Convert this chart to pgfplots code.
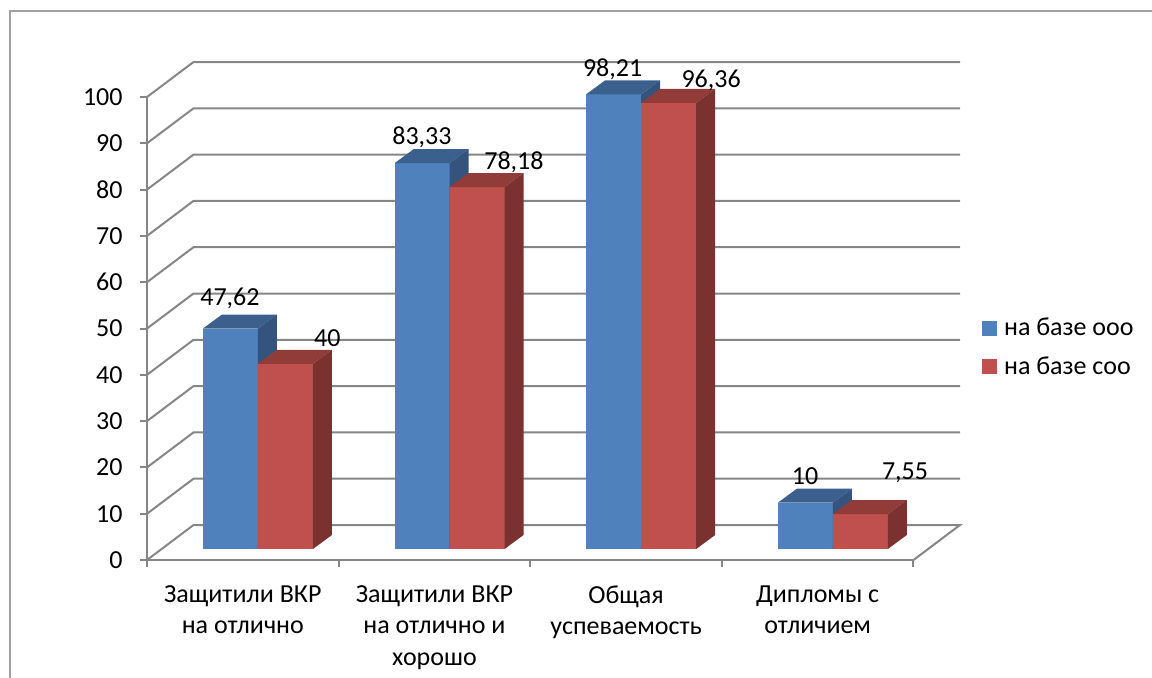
\documentclass[border=0pt]{standalone}
\usepackage{pgfplots}
\pgfplotsset{compat=1.18}
\usepackage{fontspec}
\setmainfont{Carlito}
\definecolor{bfront}{RGB}{79,129,189}
\definecolor{btop}{RGB}{60,96,142}
\definecolor{bside}{RGB}{52,84,126}
\definecolor{rfront}{RGB}{192,80,77}
\definecolor{rtop}{RGB}{145,60,57}
\definecolor{rside}{RGB}{122,49,47}
\definecolor{gridc}{RGB}{134,134,134}
\definecolor{framec}{RGB}{160,160,160}
% bar geometry (axis units)
\def\bw{0.287}
\def\ddx{0.099}
\def\ddy{3.02}
\def\bb{2.376}
\newcommand{\tdbar}[5]{%
 \pgfmathsetmacro\xa{#1}%
 \pgfmathsetmacro\xb{#1+\bw}%
 \pgfmathsetmacro\xc{#1+\bw+\ddx}%
 \pgfmathsetmacro\xd{#1+\ddx}%
 \pgfmathsetmacro\ya{\bb}%
 \pgfmathsetmacro\yb{\bb+#2}%
 \pgfmathsetmacro\yc{\bb+#2+\ddy}%
 \pgfmathsetmacro\yd{\bb+\ddy}%
 \edef\tmp{%
 \noexpand\addplot[fill=#3,draw=none,forget plot] coordinates {(\xa,\ya) (\xb,\ya) (\xb,\yb) (\xa,\yb)} -- cycle;
 \noexpand\addplot[fill=#4,draw=none,forget plot] coordinates {(\xa,\yb) (\xb,\yb) (\xc,\yc) (\xd,\yc)} -- cycle;
 \noexpand\addplot[fill=#5,draw=none,forget plot] coordinates {(\xb,\ya) (\xc,\yd) (\xc,\yc) (\xb,\yb)} -- cycle;
 }\tmp
}
\newcommand{\lf}{\fontsize{13}{15}\selectfont}
\begin{document}
\begin{tikzpicture}
\useasboundingbox (0,0) rectangle (576pt,338.5pt);
\draw[framec, line width=1pt] (5pt,-2pt) -- (5pt,333pt) -- (580pt,333pt);
\begin{axis}[
  at={(73.5pt,58.5pt)}, anchor=south west,
  scale only axis, width=383.25pt, height=231.5pt,
  xmin=0, xmax=4, ymin=0, ymax=100, clip=false,
  axis x line*=bottom, axis y line*=left,
  axis line style={gridc, line width=1pt},
  tick align=outside, major tick length=3.5pt,
  tick style={gridc, line width=1pt},
  ytick={0,10,...,100},
  yticklabel style={font=\lf, text=black, anchor=east, inner sep=0pt, xshift=-8.5pt},
  /pgf/number format/assume math mode=true,
  xtick={0,1,2,3,4}, xticklabels={},
  extra x ticks={0.5,1.5,2.5,3.5},
  extra x tick labels={{Защитили ВКР\\на отлично},{Защитили ВКР\\на отлично и\\хорошо},{Общая\\успеваемость},{Дипломы с\\отличием}},
  extra x tick style={major tick length=0pt, tick label style={font=\fontsize{13}{15.75}\selectfont, align=center, anchor=north, inner sep=0pt, yshift=-12.5pt}},
  legend image code/.code={\fill[#1] (0pt,-3.75pt) rectangle (7.5pt,3.75pt);},
  legend style={at={(1.089,0.459)}, anchor=west, draw=none, fill=none, font=\lf, row sep=9pt, inner sep=0pt, nodes={inner sep=0pt}, column sep=3.5pt},
  legend cell align=left,
]
% back wall, left wall, floor
\addplot[gridc, line width=1pt, forget plot] coordinates {(0,0) (0.2427,7.56) (4.2427,7.56) (4,0)};
\addplot[gridc, line width=1pt, forget plot] coordinates {(0,10) (0.2427,17.56) (4.2427,17.56)};
\addplot[gridc, line width=1pt, forget plot] coordinates {(0,20) (0.2427,27.56) (4.2427,27.56)};
\addplot[gridc, line width=1pt, forget plot] coordinates {(0,30) (0.2427,37.56) (4.2427,37.56)};
\addplot[gridc, line width=1pt, forget plot] coordinates {(0,40) (0.2427,47.56) (4.2427,47.56)};
\addplot[gridc, line width=1pt, forget plot] coordinates {(0,50) (0.2427,57.56) (4.2427,57.56)};
\addplot[gridc, line width=1pt, forget plot] coordinates {(0,60) (0.2427,67.56) (4.2427,67.56)};
\addplot[gridc, line width=1pt, forget plot] coordinates {(0,70) (0.2427,77.56) (4.2427,77.56)};
\addplot[gridc, line width=1pt, forget plot] coordinates {(0,80) (0.2427,87.56) (4.2427,87.56)};
\addplot[gridc, line width=1pt, forget plot] coordinates {(0,90) (0.2427,97.56) (4.2427,97.56)};
\addplot[gridc, line width=1pt, forget plot] coordinates {(0,100) (0.2427,107.56) (4.2427,107.56)};
% bars: на базе ооо (blue), на базе соо (red)
\tdbar{0.292}{47.62}{bfront}{btop}{bside}
\tdbar{0.579}{40}{rfront}{rtop}{rside}
\tdbar{1.292}{83.33}{bfront}{btop}{bside}
\tdbar{1.579}{78.18}{rfront}{rtop}{rside}
\tdbar{2.292}{98.21}{bfront}{btop}{bside}
\tdbar{2.579}{96.36}{rfront}{rtop}{rside}
\tdbar{3.292}{10}{bfront}{btop}{bside}
\tdbar{3.579}{7.55}{rfront}{rtop}{rside}
% data labels
\addplot[draw=none, forget plot, nodes near coords, point meta=explicit symbolic,
  nodes near coords style={anchor=center, font=\lf, inner sep=0pt, text=black}] table[meta=lab] {
x y lab
0.433 56.6 47,62
0.941 48.0 40
1.435 91.4 83,33
1.915 86.0 78,18
2.430 106.0 98,21
2.944 103.5 96,36
3.434 18.1 10
3.956 18.8 7,55
};
\addlegendimage{fill=bfront, draw=none}
\addlegendentry{на базе ооо}
\addlegendimage{fill=rfront, draw=none}
\addlegendentry{на базе соо}
\end{axis}
\end{tikzpicture}
\end{document}
